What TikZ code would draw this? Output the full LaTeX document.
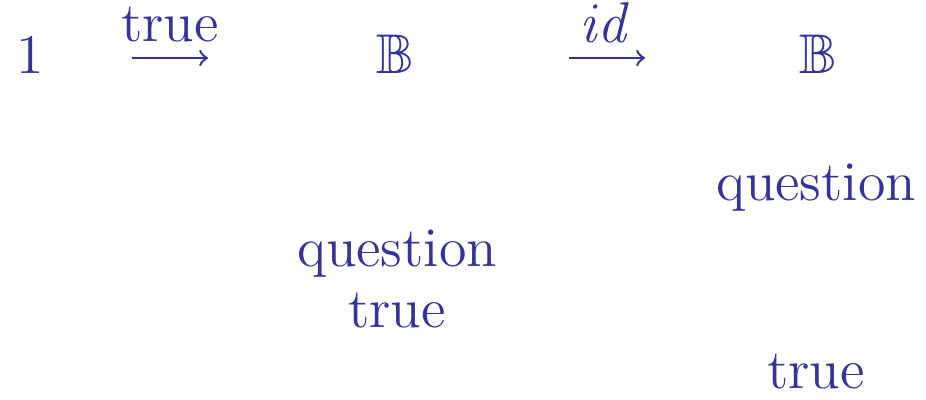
\documentclass[tikz,border=0pt]{standalone}
\usepackage{amsmath,amssymb}
\definecolor{ink}{RGB}{51,51,153}
\begin{document}
\begin{tikzpicture}[x=0.25pt,y=-0.25pt,
  lbl/.style={inner sep=0pt,anchor=base,text=ink,font=\fontsize{14}{16}\selectfont},
  arr/.style={draw=ink,line width=0.6pt,-to}]
\useasboundingbox (0,0) rectangle (926,399);
\node[lbl] (one) at (30,73) {1};
\node[lbl] (B1) at (395,73) {$\mathbb{B}$};
\node[lbl] (B2) at (818,73) {$\mathbb{B}$};
\coordinate (t1) at (132,58);
\coordinate (t2) at (208,58);
\coordinate (i1) at (569,58);
\coordinate (i2) at (645,58);
\draw[arr] (t1) -- (t2);
\draw[arr] (i1) -- (i2);
\node[lbl] (ltrue) at (170,41) {true};
\node[lbl] (lid) at (606,42) {$\mathit{id}$};
\node[lbl] (q1) at (397,266) {question};
\node[lbl] (tr1) at (397,327) {true};
\node[lbl] (q2) at (816,200) {question};
\node[lbl] (tr2) at (816,388) {true};
\end{tikzpicture}
\end{document}
